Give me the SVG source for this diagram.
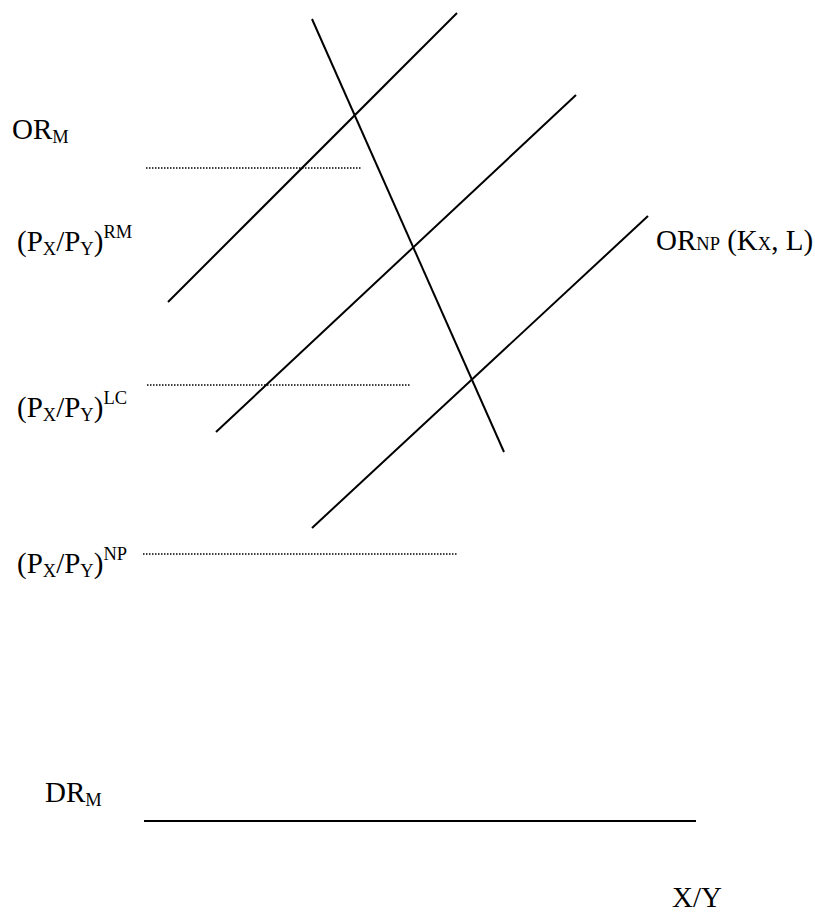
<svg xmlns="http://www.w3.org/2000/svg" width="815" height="913" viewBox="0 0 815 913">
<style>
text{font-family:'Liberation Serif','Times New Roman',Times,serif;font-size:29px;fill:#000}
.s{font-size:18.5px}
.ln{stroke:#000;stroke-width:2;fill:none}
.dot{stroke:#000;stroke-width:1.5;stroke-dasharray:1.5 1.5;fill:none}
</style>
<rect width="815" height="913" fill="#fff"/>
<g id="connectors">
<line id="lineA" class="ln" x1="168" y1="302" x2="457" y2="13"/>
<line id="lineB" class="ln" x1="216" y1="432" x2="576" y2="95"/>
<line id="lineC" class="ln" x1="312" y1="528" x2="648" y2="216"/>
<line id="lineD" class="ln" x1="312" y1="19" x2="504" y2="452"/>
<line id="dotRM" class="dot" x1="146" y1="168" x2="362" y2="168"/>
<line id="dotLC" class="dot" x1="147" y1="385" x2="410" y2="385"/>
<line id="dotNP" class="dot" x1="143" y1="554" x2="457" y2="554"/>
<line id="drm" class="ln" x1="144" y1="821" x2="696" y2="821"/>
</g>
<g id="orm"><text x="12" y="139">OR<tspan class="s" dy="4">M</tspan></text></g>
<g id="prm"><text x="17" y="251">(P<tspan class="s" dy="4">X</tspan><tspan dy="-4">/P</tspan><tspan class="s" dy="4">Y</tspan><tspan dy="-4">)</tspan><tspan class="s" dy="-13">RM</tspan></text></g>
<g id="plc"><text x="17" y="417">(P<tspan class="s" dy="4">X</tspan><tspan dy="-4">/P</tspan><tspan class="s" dy="4">Y</tspan><tspan dy="-4">)</tspan><tspan class="s" dy="-13">LC</tspan></text></g>
<g id="pnp"><text x="17" y="573">(P<tspan class="s" dy="4">X</tspan><tspan dy="-4">/P</tspan><tspan class="s" dy="4">Y</tspan><tspan dy="-4">)</tspan><tspan class="s" dy="-13">NP</tspan></text></g>
<g id="ornp"><text x="656" y="250">OR<tspan class="s">NP</tspan> (K<tspan class="s">X</tspan>, L)</text></g>
<g id="drmlabel"><text x="45" y="802">DR<tspan class="s" dy="4">M</tspan></text></g>
<g id="xy"><text x="672" y="907">X/Y</text></g>
</svg>
